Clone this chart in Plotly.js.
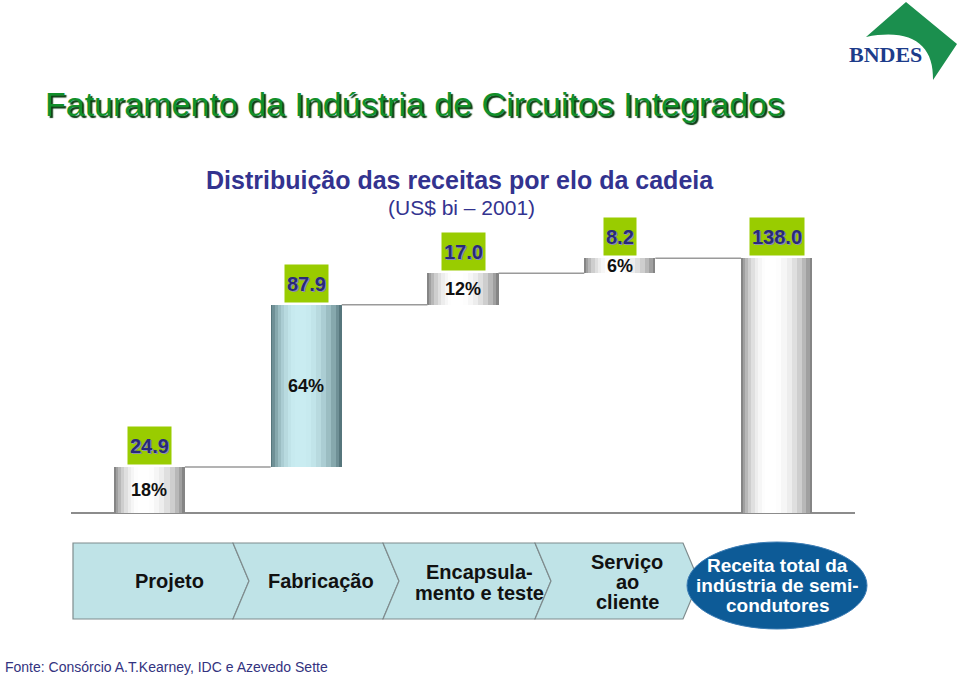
<!DOCTYPE html>
<html><head><meta charset="utf-8">
<script src="https://cdn.plot.ly/plotly-3.0.1.min.js"></script>
<style>html,body{margin:0;padding:0;background:#fff;} #chart{width:960px;height:682px;}</style>
</head><body><div id="chart"></div>
<script>
// ---------- data ----------
const steps = ["Projeto", "Fabricação", "Encapsulamento e teste", "Serviço ao cliente", "Receita total da indústria de semicondutores"];
const stepValues = [24.9, 87.9, 17.0, 8.2];
const totalValue = 138.0;
const shares = [18, 64, 12, 6];
const valueLabels = ["24.9", "87.9", "17.0", "8.2", "138.0"];
const stepLabelLines = [["Projeto"], ["Fabricação"], ["Encapsula-", "mento e teste"], ["Serviço", "ao", "cliente"], ["Receita total da", "indústria de semi-", "condutores"]];
const chartTitle = "Faturamento da Indústria de Circuitos Integrados";
const subTitle = "Distribuição das receitas por elo da cadeia";
const unitText = "(US$ bi – 2001)";
const sourceText = "Fonte: Consórcio A.T.Kearney, IDC e Azevedo Sette";

// ---------- derived ----------
const bases = [];
let run = 0;
stepValues.forEach(v => { bases.push(run); run += v; });
const allY = stepValues.concat([totalValue]);
const allBase = bases.concat([0]);
const xs = allY.map((_, i) => i);

// ---------- layout geometry ----------
const W = 960, H = 682, ML = 71, MR = 105, MT = 236, MB = 169;
const PW = W - ML - MR, PH = H - MT - MB;
const BOTTOM = H - MB;
const px2x = x => (x - ML) / PW;
const px2y = y => (BOTTOM - y) / PH;
const FONT = '"Liberation Sans", Arial, Helvetica, sans-serif';
const BARW = 0.453;

// colour helpers
function hex(c) { return [parseInt(c.slice(1,3),16), parseInt(c.slice(3,5),16), parseInt(c.slice(5,7),16)]; }
function mix(a, b, t) { const A = hex(a), B = hex(b); return 'rgb(' + A.map((v, i) => Math.round(v + (B[i] - v) * t)).join(',') + ')'; }

// ---------- gradient bar layers ----------
const layerFrac = [1.0, 0.94, 0.86, 0.76, 0.64, 0.52, 0.40, 0.28, 0.16];
const layerT    = [0.0, 0.22, 0.42, 0.60, 0.74, 0.85, 0.93, 0.98, 1.0];
const traces = [];
layerFrac.forEach((f, k) => {
  const w = BARW * f;
  const shift = 0.10 * (BARW - w);
  traces.push({
    type: 'bar', x: xs, y: allY, base: allBase,
    width: w, offset: -w / 2 - shift,
    marker: { color: xs.map(i => i === 1 ? mix('#56767c', '#c9ecf1', layerT[k]) : mix('#858585', '#ffffff', layerT[k])), line: { width: 0 } },
    hoverinfo: 'skip', showlegend: false
  });
});

// connectors
const cx = [], cy = [];
for (let i = 0; i < stepValues.length; i++) {
  const lvl = bases[i] + stepValues[i];
  cx.push(i + BARW / 2, i + 1 - BARW / 2, null);
  cy.push(lvl, lvl, null);
}
traces.push({ type: 'scatter', mode: 'lines', x: cx, y: cy, line: { color: '#9a9a9a', width: 1.5 }, hoverinfo: 'skip', showlegend: false });

// ---------- annotations ----------
const ann = [];
allY.forEach((v, i) => {
  ann.push({
    x: i, y: allBase[i] + v, xref: 'x', yref: 'y', xanchor: 'center', yanchor: 'bottom', yshift: 2,
    text: valueLabels[i], showarrow: false, bgcolor: '#99cc00', borderpad: 2, height: 33,
    font: { family: FONT, size: 20, weight: 'bold', color: '#2a2a78', shadow: '1.5px 1.5px 0px #8a8ab8' }
  });
});
shares.forEach((s, i) => {
  ann.push({
    x: i, y: bases[i] + stepValues[i] / 2, xref: 'x', yref: 'y', xanchor: 'center', yanchor: 'middle',
    text: s + '%', showarrow: false,
    font: { family: FONT, size: 18, weight: 'bold', color: '#111111' }
  });
});
function pAnn(x, y, text, font, xanchor) {
  return { x: px2x(x), y: px2y(y), xref: 'paper', yref: 'paper', xanchor: xanchor || 'center', yanchor: 'middle', showarrow: false, text: text, font: font };
}
ann.push(pAnn(459.5, 180, subTitle, { family: FONT, size: 25, weight: 'bold', color: '#33338f' }));
ann.push(pAnn(461, 207, unitText, { family: FONT, size: 21, color: '#33338f' }));
ann.push(pAnn(3, 667, sourceText, { family: FONT, size: 14, color: '#333380' }, 'left'));

// step labels
const labelX = [169, 321, 480, 627, 777];
const labelY = [[581], [581], [572, 593], [562, 582, 602], [565, 585, 605]];
stepLabelLines.forEach((lines, i) => {
  lines.forEach((t, j) => {
    ann.push(pAnn(labelX[i], labelY[i][j], t,
      { family: FONT, size: i === 4 ? 19 : 20, weight: 'bold', color: i === 4 ? '#ffffff' : '#111111' }));
  });
});
// logo text
ann.push(pAnn(886, 54, 'BNDES', { family: '"Liberation Serif", "Times New Roman", serif', size: 22, weight: 'bold', color: '#1d3c8a' }));

// ---------- shapes ----------
function P(pts) { return pts.map((p, i) => (i ? 'L' : 'M') + px2x(p[0]) + ',' + px2y(p[1])).join(' ') + ' Z'; }
const shapes = [];
const segs = [[73, 233], [233, 383], [383, 535], [535, 683]];
const TOP = 543, BOT = 619, MID = 581, D = 16;
segs.forEach((s, i) => {
  const pts = [[s[0], TOP], [s[1], TOP], [s[1] + D, MID], [s[1], BOT], [s[0], BOT]];
  if (i > 0) pts.push([s[0] + D, MID]);
  shapes.push({ type: 'path', xref: 'paper', yref: 'paper', path: P(pts), fillcolor: '#bfe3e7', line: { color: '#7f8c8e', width: 1.2 } });
});
shapes.push({ type: 'circle', xref: 'paper', yref: 'paper', x0: px2x(687), x1: px2x(867), y0: px2y(629), y1: px2y(542),
  fillcolor: '#0d5b97', line: { color: '#3d7db5', width: 1 } });
// logo diamond
const q = (x, y) => px2x(x) + ',' + px2y(y);
shapes.push({ type: 'path', xref: 'paper', yref: 'paper',
  path: 'M' + q(906, 2) + ' L' + q(957, 44) + ' L' + q(933, 80) + ' C' + q(934, 45) + ' ' + q(912, 28) + ' ' + q(866, 37) + ' Z',
  fillcolor: '#1b8f4e', line: { width: 0 } });

const layout = {
  width: W, height: H,
  margin: { l: ML, r: MR, t: MT, b: MB },
  paper_bgcolor: '#ffffff', plot_bgcolor: '#ffffff',
  barmode: 'overlay', bargap: 0,
  showlegend: false, hovermode: false,
  title: { text: chartTitle, xref: 'container', yref: 'container', x: 45 / W, xanchor: 'left', y: 1 - 104 / H, yanchor: 'middle',
    font: { family: FONT, size: 34, color: '#11902a', shadow: '2px 2px 1px #0b3d12' } },
  xaxis: { range: [-0.5, 4.5], visible: false, fixedrange: true },
  yaxis: { range: [0, 150], showgrid: false, showticklabels: false, ticks: '', showline: false,
    zeroline: true, zerolinecolor: '#8c8c8c', zerolinewidth: 2, fixedrange: true },
  annotations: ann, shapes: shapes
};
Plotly.newPlot('chart', traces, layout, { displayModeBar: false, staticPlot: true });
</script>
</body></html>
